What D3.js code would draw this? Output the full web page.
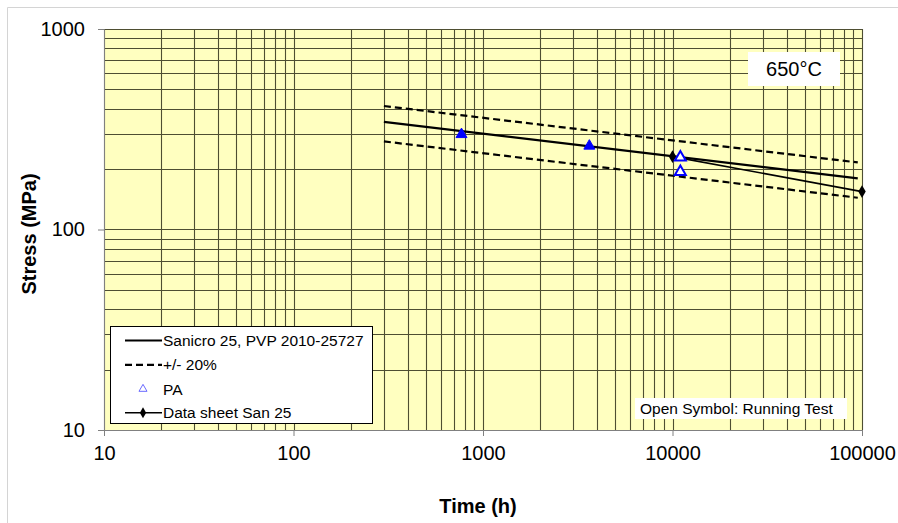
<!DOCTYPE html>
<html><head><meta charset="utf-8">
<script src="https://cdn.jsdelivr.net/npm/d3@7"></script>
<style>html,body{margin:0;padding:0;background:#fff;}svg{display:block;}text{font-family:"Liberation Sans",Arial,sans-serif;}</style>
</head><body>
<script>
// ---- data ----
const timeTicks = [10, 100, 1000, 10000, 100000];
const stressTicks = [10, 100, 1000];
const fitTime = [300, 95000];
const fitStress = [344, 180];
const upperStress = [413, 216];
const lowerStress = [275, 144];
const paTime = [770, 3640, 11000, 11000];
const paStress = [298, 261, 229, 194];
const paRunning = [false, false, true, true];
const sheetTime = [10000, 100000];
const sheetStress = [231, 154.5];
const legendLabels = ["Sanicro 25, PVP 2010-25727", "+/- 20%", "PA", "Data sheet San 25"];
const tempLabel = "650°C";
const noteLabel = "Open Symbol: Running Test";

const W = 898, H = 523;
const L = 104, R = 862, T = 29, B = 430;
const svg = d3.select("body").append("svg").attr("width", W).attr("height", H);

// outer border
svg.append("path").attr("d", `M7.5,${H} V7.5 H${W}`).attr("fill","none").attr("stroke","#d4d4d4").attr("stroke-width",1);

const x = d3.scaleLog().domain([10, 100000]).range([L, R]);
const y = d3.scaleLog().domain([10, 1000]).range([B, T]);

svg.append("rect").attr("x", L).attr("y", T).attr("width", R - L).attr("height", B - T).attr("fill", "#ffffc0");

// grid
const gridCol = "#4e4e32";
const xg = [], yg = [];
for (let d = 10; d < 100000; d *= 10) for (let k = 1; k <= 9; k++) xg.push(d * k);
xg.push(100000);
for (let d = 10; d < 1000; d *= 10) for (let k = 1; k <= 9; k++) yg.push(d * k);
yg.push(1000);
svg.append("g").selectAll("line").data(xg).join("line")
  .attr("x1", d => Math.round(x(d)) + 0.5).attr("x2", d => Math.round(x(d)) + 0.5)
  .attr("y1", T).attr("y2", B).attr("stroke", gridCol).attr("stroke-width", 1.1);
svg.append("g").selectAll("line").data(yg).join("line")
  .attr("y1", d => Math.round(y(d)) + 0.5).attr("y2", d => Math.round(y(d)) + 0.5)
  .attr("x1", L).attr("x2", R).attr("stroke", gridCol).attr("stroke-width", 1.1);

// axes
const xAxis = d3.axisBottom(x).tickValues(timeTicks).tickFormat(d3.format("d")).tickSize(6).tickPadding(10);
const gx = svg.append("g").attr("transform", `translate(0,${B})`).call(xAxis);
gx.select(".domain").attr("stroke", "#808080");
gx.selectAll(".tick line").attr("stroke", "#808080");
gx.selectAll(".tick text").attr("font-size", 20).attr("fill", "#000").attr("font-family", "'Liberation Sans',Arial,sans-serif");

const yAxis = d3.axisLeft(y).tickValues(stressTicks).tickFormat(d3.format("d")).tickSize(6).tickPadding(13);
const gy = svg.append("g").attr("transform", `translate(${L},0)`).call(yAxis);
gy.select(".domain").attr("stroke", "#808080");
gy.selectAll(".tick line").attr("stroke", "#808080");
gy.selectAll(".tick text").attr("font-size", 20).attr("fill", "#000").attr("font-family", "'Liberation Sans',Arial,sans-serif");

// axis titles
svg.append("text").attr("x", 478).attr("y", 513).attr("text-anchor", "middle")
  .attr("font-size", 20).attr("font-weight", "bold").text("Time (h)");
svg.append("text").attr("transform", "translate(36,234) rotate(-90)").attr("text-anchor", "middle")
  .attr("font-size", 20).attr("font-weight", "bold").text("Stress (MPa)");

// lines
const line = d3.line().x(d => x(d[0])).y(d => y(d[1]));
const fitPts = fitTime.map((t, i) => [t, fitStress[i]]);
const upPts = fitTime.map((t, i) => [t, upperStress[i]]);
const loPts = fitTime.map((t, i) => [t, lowerStress[i]]);
const shPts = sheetTime.map((t, i) => [t, sheetStress[i]]);
svg.append("path").attr("d", line(upPts)).attr("fill","none").attr("stroke","#000").attr("stroke-width",2.2).attr("stroke-dasharray","7,4");
svg.append("path").attr("d", line(loPts)).attr("fill","none").attr("stroke","#000").attr("stroke-width",2.2).attr("stroke-dasharray","7,4");
svg.append("path").attr("d", line(fitPts)).attr("fill","none").attr("stroke","#000").attr("stroke-width",2.3);
svg.append("path").attr("d", line(shPts)).attr("fill","none").attr("stroke","#000").attr("stroke-width",1.6);
const diamond = d3.symbol().type(d3.symbolDiamond).size(48);
svg.append("g").selectAll("path").data(shPts).join("path")
  .attr("transform", d => `translate(${x(d[0])},${y(d[1])})`).attr("d", diamond).attr("fill", "#000");

// PA points
const tri = d3.symbol().type(d3.symbolTriangle).size(52);
svg.append("g").selectAll("path").data(paTime.map((t, i) => [t, paStress[i], paRunning[i]])).join("path")
  .attr("transform", d => `translate(${x(d[0])},${y(d[1])})`).attr("d", tri)
  .attr("fill", d => d[2] ? "#fff" : "#0000ff").attr("stroke", "#0000ff").attr("stroke-width", d => d[2] ? 2 : 1);

// temperature label
svg.append("rect").attr("x", 748).attr("y", 52).attr("width", 92).attr("height", 34).attr("fill", "#fff");
svg.append("text").attr("x", 794).attr("y", 76).attr("text-anchor", "middle").attr("font-size", 20).text(tempLabel);

// note label
svg.append("rect").attr("x", 635).attr("y", 398).attr("width", 212).attr("height", 21).attr("fill", "#fff");
svg.append("text").attr("x", 640).attr("y", 413.5).attr("font-size", 15.5).text(noteLabel);

// legend
const lg = svg.append("g");
lg.append("rect").attr("x", 110.5).attr("y", 326.5).attr("width", 262).attr("height", 97).attr("fill", "#fff").attr("stroke", "#000").attr("stroke-width", 1);
const rows = [346, 370.3, 394.5, 418.3];
legendLabels.forEach((lab, i) => {
  const by = rows[i], cy = by - 5.5;
  lg.append("text").attr("x", 163).attr("y", by).attr("font-size", 15.5).text(lab);
  if (i === 0) lg.append("line").attr("x1", 125).attr("x2", 162).attr("y1", cy).attr("y2", cy).attr("stroke", "#000").attr("stroke-width", 2.2);
  if (i === 1) lg.append("line").attr("x1", 125).attr("x2", 162).attr("y1", cy).attr("y2", cy).attr("stroke", "#000").attr("stroke-width", 2.2).attr("stroke-dasharray", "7,4");
  if (i === 2) lg.append("path").attr("transform", `translate(143,${cy})`).attr("d", d3.symbol().type(d3.symbolTriangle).size(28)).attr("fill", "#fff").attr("stroke", "#6a6aff").attr("stroke-width", 1);
  if (i === 3) {
    lg.append("line").attr("x1", 125).attr("x2", 162).attr("y1", cy).attr("y2", cy).attr("stroke", "#000").attr("stroke-width", 1.6);
    lg.append("path").attr("transform", `translate(143,${cy})`).attr("d", d3.symbol().type(d3.symbolDiamond).size(34)).attr("fill", "#000");
  }
});
</script>
</body></html>
